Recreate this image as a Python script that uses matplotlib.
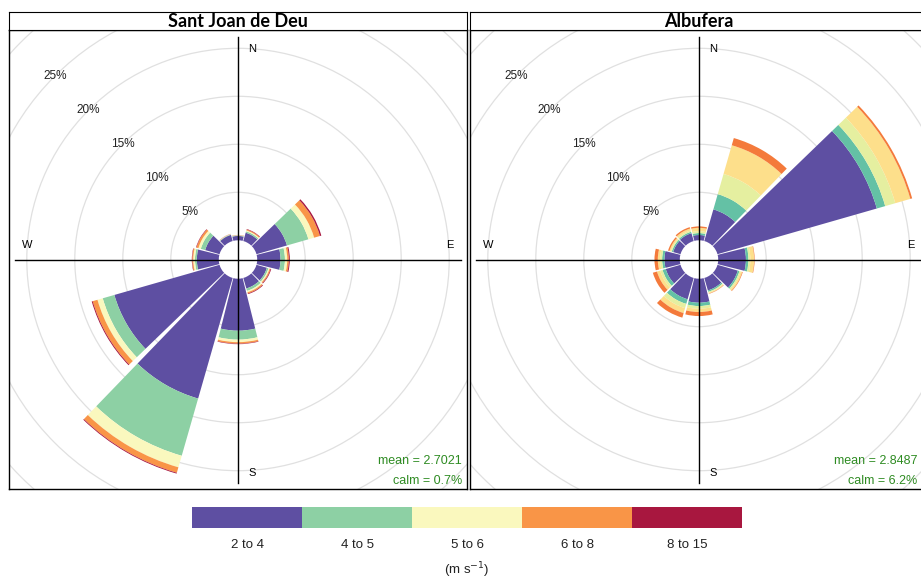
import numpy as np
import matplotlib
matplotlib.use("Agg")
import matplotlib.pyplot as plt
from matplotlib.patches import Wedge, Rectangle

plt.rcParams['font.family'] = ['Liberation Sans', 'DejaVu Sans']

# wind direction sectors (degrees from north) and speed bins
directions = [0, 30, 60, 90, 120, 150, 180, 210, 240, 270, 300, 330]
speed_bins = ["2 to 4", "4 to 5", "5 to 6", "6 to 8", "8 to 15"]

# frequency (%) per speed bin and direction, Sant Joan de Deu
sjd_2_4 = [0.45, 0.90, 3.31, 2.43, 1.13, 1.14, 5.42, 13.07, 11.40, 2.29, 1.56, 0.67]
sjd_4_5 = [0.05, 0.15, 2.32, 0.46, 0.17, 0.26, 0.93, 6.20, 1.26, 0.19, 0.47, 0.05]
sjd_5_6 = [0.03, 0.10, 0.62, 0.24, 0.12, 0.15, 0.26, 1.25, 0.57, 0.18, 0.26, 0.03]
sjd_6_8 = [0.02, 0.10, 0.63, 0.17, 0.11, 0.13, 0.16, 0.59, 0.52, 0.11, 0.21, 0.02]
sjd_8_15 = [0.01, 0.05, 0.15, 0.10, 0.07, 0.07, 0.05, 0.09, 0.10, 0.04, 0.05, 0.01]

# Albufera
alb_2_4 = [0.55, 3.43, 17.27, 2.89, 2.20, 1.35, 2.50, 2.31, 1.60, 1.60, 0.80, 0.85]
alb_4_5 = [0.20, 1.65, 0.91, 0.26, 0.18, 0.15, 0.35, 0.50, 0.35, 0.24, 0.15, 0.15]
alb_5_6 = [0.20, 2.19, 1.09, 0.20, 0.14, 0.10, 0.28, 0.46, 0.25, 0.21, 0.10, 0.15]
alb_6_8 = [0.35, 3.11, 1.63, 0.40, 0.16, 0.08, 0.34, 0.53, 0.35, 0.24, 0.15, 0.20]
alb_8_15 = [0.15, 0.78, 0.20, 0.05, 0.06, 0.04, 0.42, 0.50, 0.45, 0.35, 0.15, 0.15]

ring_levels = [5, 10, 15, 20, 25]
sjd_mean, sjd_calm = 2.7021, 0.7
alb_mean, alb_calm = 2.8487, 6.2

cols_sjd = ['#5E4FA2', '#8DD0A4', '#FAF8BE', '#F99547', '#A8173F']
cols_alb = ['#5E4FA2', '#64C1A5', '#E5EFA0', '#FDDF8B', '#F47A3B', '#A8173F']

R0 = 2.0          # radius of the calm circle
HALF = 14.0       # half width of each wedge, degrees
PX = 9.6          # pixels per percent


def rose(ax, title_ax, title, bins, cols, mean, calm, txt_x):
    ax.set_xlim(-229 / PX, 229 / PX)
    ax.set_ylim(-229.5 / PX, 229.5 / PX)
    ax.set_xticks([])
    ax.set_yticks([])
    for s in ax.spines.values():
        s.set_linewidth(1.0)
    # grey rings
    for k in range(1, 9):
        ax.add_patch(plt.Circle((0, 0), R0 + 5 * k, fill=False, ec='#e0e0e0',
                                lw=0.9, zorder=1))
    cum = np.zeros(len(directions))
    for vals, c in zip(bins, cols):
        vals = np.array(vals)
        for d, base, v in zip(directions, cum, vals):
            ang = 90 - d
            ax.add_patch(Wedge((0, 0), R0 + base + v, ang - HALF, ang + HALF,
                               width=v, fc=c, ec='none', zorder=2))
        cum = cum + vals
    lim = 223 / PX
    ax.plot([-lim, lim], [0, 0], color='black', lw=1, zorder=3)
    ax.plot([0, 0], [-lim, lim], color='black', lw=1, zorder=3)
    for lv in ring_levels:
        r = R0 + lv
        ax.text(-r * np.sin(np.pi / 4), r * np.cos(np.pi / 4), f"{lv}%",
                ha='center', va='center', fontsize=8.5, color='#222222', zorder=4)
    off = 14 / PX
    ax.text(off, 210 / PX, "N", ha='center', va='center', fontsize=8)
    ax.text(off, -213 / PX, "S", ha='center', va='center', fontsize=8)
    ax.text(-211 / PX, off, "W", ha='center', va='center', fontsize=8)
    ax.text(212 / PX, off, "E", ha='center', va='center', fontsize=8)
    ax.text(txt_x, 0.062, f"mean = {mean:.4f}", transform=ax.transAxes,
            ha='right', va='center', fontsize=9, color='#2E8B22')
    ax.text(txt_x, 0.018, f"calm = {calm}%", transform=ax.transAxes,
            ha='right', va='center', fontsize=9, color='#2E8B22')
    title_ax.set_xticks([])
    title_ax.set_yticks([])
    title_ax.text(0.5, 0.45, title, ha='center', va='center', fontsize=13,
                  fontweight='bold', family=['Lato', 'DejaVu Sans'])


W, H = 921, 579
fig = plt.figure(figsize=(W / 100, H / 100), dpi=100)

ax1 = fig.add_axes([9 / W, (H - 489) / H, 458 / W, 459 / H])
t1 = fig.add_axes([9 / W, (H - 30) / H, 458 / W, 18 / H])
ax2 = fig.add_axes([470 / W, (H - 489) / H, 458 / W, 459 / H])
t2 = fig.add_axes([470 / W, (H - 30) / H, 458 / W, 18 / H])

rose(ax1, t1, "Sant Joan de Deu",
     [sjd_2_4, sjd_4_5, sjd_5_6, sjd_6_8, sjd_8_15], cols_sjd,
     sjd_mean, sjd_calm, 0.989)
rose(ax2, t2, "Albufera",
     [alb_2_4, alb_4_5, alb_5_6, alb_6_8, alb_8_15], cols_alb,
     alb_mean, alb_calm, 0.977)

# colour key
lg = fig.add_axes([192 / W, (H - 528) / H, 550 / W, 21 / H])
lg.set_xlim(0, len(speed_bins))
lg.set_ylim(0, 1)
lg.axis('off')
for i, (lab, c) in enumerate(zip(speed_bins, cols_sjd)):
    lg.add_patch(Rectangle((i, 0), 1, 1, fc=c, ec='none'))
    lg.text(i + 0.5, -0.8, lab, ha='center', va='center', fontsize=9.5,
            color='#222222')
lg.text(2.5, -2.0, "(m s$^{-1}$)", ha='center', va='center', fontsize=9.5,
        color='#222222')

fig.savefig("out.png", dpi=100)
